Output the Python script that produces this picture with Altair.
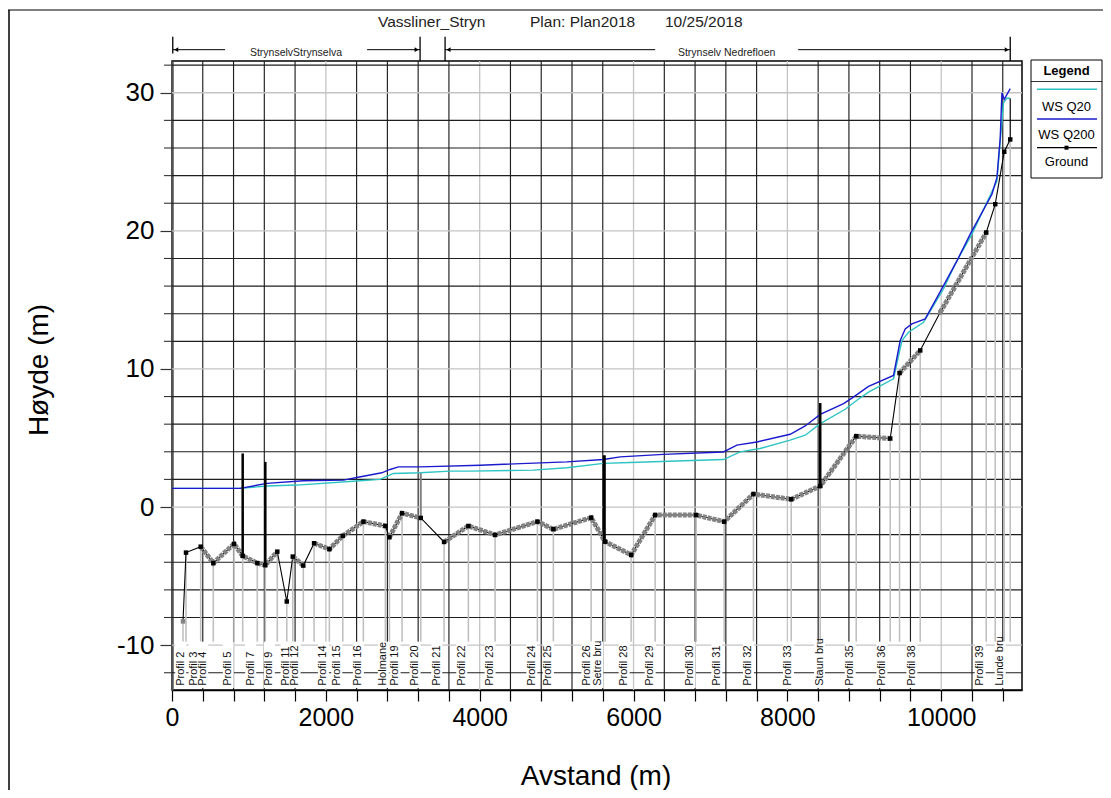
import altair as alt
import pandas as pd

FONT = "Liberation Sans"

# ---------------- data ----------------
# Ground profile (channel invert): station (m), elevation (m), marker ("b" = cross section, "g" = interpolated)
ground_x = [143, 182, 373, 537, 806, 919, 1109, 1213, 1369, 1492, 1570, 1707, 1847, 2046, 2220,
            2488, 2774, 2826, 2991, 3234, 3537, 3853, 4200, 4750, 4958, 5449, 5631, 5969, 6281,
            6814, 7178, 7559, 8050, 8427, 8895, 9337, 9458, 9727, 9987, 10585, 10702, 10819, 10897]
ground_z = [-8.28, -3.30, -2.87, -4.06, -2.67, -3.54, -4.06, -4.21, -3.23, -6.84, -3.59, -4.24,
            -2.62, -3.05, -2.09, -1.06, -1.37, -2.19, -0.45, -0.79, -2.53, -1.37, -2.02, -1.06,
            -1.61, -0.77, -2.51, -3.47, -0.58, -0.58, -1.06, 0.94, 0.56, 1.52, 5.13, 4.96, 9.70,
            11.34, 14.10, 19.88, 21.93, 25.73, 26.62]
ground_mk = ["g"] + ["b"] * 37 + ["g"] + ["b"] * 4
# 1 = stretch with interpolated sections (thick grey), 0 = plain thin line
seg_interp = [0, 0, 1, 1, 1, 1, 1, 1, 0, 0, 1, 0, 1, 1, 1, 1, 0, 1, 1, 0, 1, 1, 1, 1, 1, 1, 1,
              1, 1, 1, 1, 1, 1, 1, 1, 0, 1, 0, 1, 0, 0, 0]

# Water surfaces
q20_x = [0, 884, 1232, 1622, 2402, 2705, 2878, 3225, 3615, 3875, 4698, 5133, 5609, 5956, 7169,
         7386, 7646, 8036, 8232, 8427, 8752, 8904, 9055, 9380, 9489, 9575, 9770, 10030, 10182,
         10399, 10724, 10767, 10810, 10854, 10897]
q20_z = [1.35, 1.35, 1.52, 1.59, 1.88, 2.00, 2.43, 2.48, 2.60, 2.60, 2.67, 2.84, 3.16, 3.23, 3.44,
         3.99, 4.24, 4.84, 5.20, 6.04, 7.08, 7.73, 8.32, 9.29, 12.06, 12.66, 13.38, 15.79, 17.60,
         19.76, 23.61, 26.50, 29.26, 29.62, 29.58]
q200_x = [0, 884, 1232, 1707, 2228, 2402, 2727, 2835, 2943, 3225, 4005, 5133, 5609, 5826, 6389,
          7169, 7343, 7604, 8036, 8232, 8427, 8730, 8839, 9055, 9380, 9467, 9532, 9619, 9792,
          10030, 10204, 10377, 10659, 10724, 10767, 10789, 10819, 10897]
q200_z = [1.35, 1.35, 1.71, 1.90, 1.95, 2.14, 2.48, 2.72, 2.91, 2.91, 3.03, 3.27, 3.44, 3.63, 3.81,
          3.99, 4.48, 4.71, 5.27, 5.87, 6.71, 7.49, 7.89, 8.74, 9.53, 12.06, 12.90, 13.26, 13.62,
          16.03, 17.83, 19.76, 22.65, 23.85, 26.74, 29.99, 29.53, 30.30]

# Cross-section labels
xs_labels = ["Profil 2", "Profil 3", "Profil 4", "Profil 5", "Profil 7", "Profil 9", "Profil 11",
             "Profil 12", "Profil 14", "Profil 15", "Profil 16", "Holmane", "Profil 19",
             "Profil 20", "Profil 21", "Profil 22", "Profil 23", "Profil 24", "Profil 25",
             "Profil 26", "Setre bru", "Profil 28", "Profil 29", "Profil 30", "Profil 31",
             "Profil 32", "Profil 33", "Staun bru", "Profil 35", "Profil 36", "Profil 38",
             "Profil 39", "Lunde bru"]
xs_label_x = [113, 286, 399, 732, 1023, 1265, 1482, 1600, 1968, 2142, 2423, 2748, 2900, 3160,
              3442, 3767, 4135, 4678, 4893, 5393, 5536, 5878, 6216, 6736, 7083, 7494, 8014,
              8418, 8817, 9229, 9619, 10507, 10767]

# Structures (bridges etc.) drawn as vertical bars
st_x = [919, 1213, 3234, 5620, 8427, 10897]
st_lo = [-3.54, -4.21, -0.79, -2.51, 1.52, 26.62]
st_hi = [3.88, 3.27, 2.45, 3.75, 7.53, 29.58]
st_col = ["black", "black", "#808080", "black", "black", "black"]
st_w = [2.5, 2.5, 2.0, 3.0, 2.5, 1.2]

# Reaches
reach_names = ["StrynselvStrynselva", "Strynselv Nedrefloen"]
reach_label_x = [1612, 7210]
reach_arrow_x1 = [10, 2536, 3550, 8140]
reach_arrow_x2 = [689, 3225, 6281, 10897]
reach_tips = [10, 3225, 3550, 10897]
reach_tip_dir = ["left", "right", "left", "right"]

x_major = [0, 2000, 4000, 6000, 8000, 10000]
y_major = [-10, 0, 10, 20, 30]

# ---------------- scales / axes ----------------
XS = alt.Scale(domain=[0, 11050], nice=False, zero=False)
YS = alt.Scale(domain=[-13.25, 32.3], nice=False, zero=False)
W, H = 850, 629

x_minor = [v for v in range(400, 11050, 400) if v % 2000 != 0]
y_minor = [v for v in range(-12, 33, 2) if v % 10 != 0]
x_all = list(range(0, 11050, 400))

AX = alt.Axis(values=x_all, labelExpr="datum.value % 2000 == 0 ? '' + datum.value : ''",
              labelFontSize=25, labelFont=FONT, labelColor="black", tickSize=11,
              tickColor="black", tickWidth=1.2, domainColor="black", domainWidth=1.5,
              labelPadding=4, labelOverlap=False, labelFlush=False, grid=False, title=None)
AY = alt.Axis(values=y_major, labelExpr="'' + datum.value", labelFontSize=26, labelFont=FONT,
              labelColor="black", tickSize=12, tickColor="#333", tickWidth=1.2,
              domainColor="#555", domainWidth=2.5, labelPadding=6, labelOverlap=False,
              labelFlush=False, grid=False, title=None)


def X(f):
    return alt.X(f, scale=XS, axis=AX)


def Y(f):
    return alt.Y(f, scale=YS, axis=AY)


one = alt.Data(values=[{"k": 0}])
layers = []

# grid
layers.append(alt.Chart(pd.DataFrame({"v": x_major[1:]})).mark_rule(
    color="#c4c4c4", strokeWidth=1.3).encode(x=X("v:Q")))
layers.append(alt.Chart(pd.DataFrame({"v": x_minor})).mark_rule(
    color="#1e1e1e", strokeWidth=1.15).encode(x=X("v:Q")))
layers.append(alt.Chart(pd.DataFrame({"v": y_major})).mark_rule(
    color="#c4c4c4", strokeWidth=1.3).encode(y=Y("v:Q")))
layers.append(alt.Chart(pd.DataFrame({"v": y_minor})).mark_rule(
    color="#1e1e1e", strokeWidth=1.15).encode(y=Y("v:Q")))
# minor ticks on y axis
layers.append(alt.Chart(pd.DataFrame({"v": y_minor})).mark_rule(
    color="#333", strokeWidth=1.1).encode(y=Y("v:Q"), x=alt.value(-8), x2=alt.value(0)))

# cross-section stems (ground down to label band)
gdf = pd.DataFrame({"x": ground_x, "z": ground_z, "mk": ground_mk, "o": range(len(ground_x))})
stems = pd.concat([gdf.iloc[[0]], gdf[gdf["mk"] == "b"]])
stems["low"] = -9.75
layers.append(alt.Chart(stems).mark_rule(color="#c0c0c0", strokeWidth=1.6).encode(
    x=X("x:Q"), y=Y("z:Q"), y2="low:Q"))

# label boxes + labels
ldf = pd.DataFrame({"label": xs_labels, "x": xs_label_x})
ldf["yb"] = -12.95
ldf["top"] = -9.75
ldf["bot"] = -13.1
layers.append(alt.Chart(ldf).mark_rule(color="white", strokeWidth=11).encode(
    x=X("x:Q"), y=Y("top:Q"), y2="bot:Q"))
layers.append(alt.Chart(ldf).mark_text(
    angle=270, align="left", baseline="middle", fontSize=11, font=FONT, color="#111").encode(
    x=X("x:Q"), y=Y("yb:Q"), text="label:N"))

# water surfaces
layers.append(alt.Chart(pd.DataFrame({"x": q20_x, "z": q20_z})).mark_line(
    color="#2ec4c4", strokeWidth=1.4).encode(x=X("x:Q"), y=Y("z:Q")))
layers.append(alt.Chart(pd.DataFrame({"x": q200_x, "z": q200_z})).mark_line(
    color="#1a1acc", strokeWidth=1.4).encode(x=X("x:Q"), y=Y("z:Q")))

# ground
layers.append(alt.Chart(gdf).mark_line(color="black", strokeWidth=1.1).encode(
    x=X("x:Q"), y=Y("z:Q"), order="o:Q"))
rows = []
run = -1
prev = False
for i, f in enumerate(seg_interp):
    if f:
        if not prev:
            run += 1
            rows.append({"seg": run, "x": ground_x[i], "z": ground_z[i], "o": i})
        rows.append({"seg": run, "x": ground_x[i + 1], "z": ground_z[i + 1], "o": i + 1})
    prev = bool(f)
layers.append(alt.Chart(pd.DataFrame(rows)).mark_line(
    color="#838383", strokeWidth=5, strokeDash=[4, 1]).encode(
    x=X("x:Q"), y=Y("z:Q"), detail="seg:N", order="o:Q"))

sdf = pd.DataFrame({"x": st_x, "lo": st_lo, "hi": st_hi, "col": st_col, "w": st_w})
layers.append(alt.Chart(sdf).mark_rule().encode(
    x=X("x:Q"), y=Y("lo:Q"), y2="hi:Q",
    color=alt.Color("col:N", scale=None), strokeWidth=alt.StrokeWidth("w:Q", scale=None)))

layers.append(alt.Chart(gdf).mark_square(size=20, opacity=1).encode(
    x=X("x:Q"), y=Y("z:Q"),
    color=alt.Color("mk:N", scale=alt.Scale(domain=["b", "g"], range=["black", "#838383"]),
                    legend=None)))

# reach annotation above the plot
adf = pd.DataFrame({"x1": reach_arrow_x1, "x2": reach_arrow_x2})
adf["y"] = 33.12
layers.append(alt.Chart(adf).mark_rule(color="black", strokeWidth=1).encode(
    x=X("x1:Q"), x2="x2:Q", y=Y("y:Q")))
bdf = pd.DataFrame({"x": reach_tips})
bdf["y1"] = [32.85, 32.3, 32.3, 32.3]
bdf["y2"] = 34.05
layers.append(alt.Chart(bdf).mark_rule(color="black", strokeWidth=1.3).encode(
    x=X("x:Q"), y=Y("y1:Q"), y2="y2:Q"))
hdf = pd.DataFrame({"x": [t + (45 if d == "left" else -45) for t, d in zip(reach_tips, reach_tip_dir)],
                    "shape": ["triangle-left" if d == "left" else "triangle-right" for d in reach_tip_dir]})
hdf["y"] = 33.12
layers.append(alt.Chart(hdf).mark_point(filled=True, size=22, color="black", opacity=1).encode(
    x=X("x:Q"), y=Y("y:Q"), shape=alt.Shape("shape:N", scale=None)))
rdf = pd.DataFrame({"name": reach_names, "x": reach_label_x})
rdf["y"] = 32.88
layers.append(alt.Chart(rdf).mark_text(fontSize=10.5, font=FONT, color="#222").encode(
    x=X("x:Q"), y=Y("y:Q"), text="name:N"))

# title pieces
for txt, px in [("Vassliner_Stryn", 206), ("Plan: Plan2018", 358), ("10/25/2018", 493)]:
    layers.append(alt.Chart(one).mark_text(text=txt, fontSize=15.5, font=FONT, color="#222",
                                           align="left", baseline="middle").encode(
        x=alt.value(px), y=alt.value(-39)))

# axis titles
layers.append(alt.Chart(one).mark_text(text="Avstand (m)", fontSize=28, font=FONT, color="black",
                                       align="center", baseline="alphabetic").encode(
    x=alt.value(424), y=alt.value(724)))
layers.append(alt.Chart(one).mark_text(text="Høyde (m)", fontSize=28, font=FONT, color="black",
                                       align="center", baseline="middle", angle=270).encode(
    x=alt.value(-132), y=alt.value(309)))

# legend box
layers.append(alt.Chart(one).mark_rect(fill="white", stroke="black", strokeWidth=1).encode(
    x=alt.value(859), x2=alt.value(930), y=alt.value(-1), y2=alt.value(117)))
layers.append(alt.Chart(one).mark_rule(color="black", strokeWidth=0.8).encode(
    x=alt.value(859), x2=alt.value(930), y=alt.value(20.5)))
layers.append(alt.Chart(one).mark_text(text="Legend", fontSize=13, fontWeight="bold", font=FONT,
                                       color="black").encode(x=alt.value(894.5), y=alt.value(9.5)))
for ly, col, w in [(28.3, "#2ec4c4", 1.6), (58, "#1a1acc", 1.6), (86.7, "black", 1.2)]:
    layers.append(alt.Chart(one).mark_rule(color=col, strokeWidth=w).encode(
        x=alt.value(865), x2=alt.value(925), y=alt.value(ly)))
layers.append(alt.Chart(one).mark_square(size=16, color="black", opacity=1).encode(
    x=alt.value(894.5), y=alt.value(86.7)))
for txt, ty in [("WS Q20", 46), ("WS Q200", 74), ("Ground", 100.7)]:
    layers.append(alt.Chart(one).mark_text(text=txt, fontSize=13, font=FONT, color="black").encode(
        x=alt.value(894.5), y=alt.value(ty)))

# outer frame lines
layers.append(alt.Chart(one).mark_rule(color="black", strokeWidth=1.2).encode(
    x=alt.value(-164), x2=alt.value(931), y=alt.value(-51)))
layers.append(alt.Chart(one).mark_rule(color="black", strokeWidth=1.5).encode(
    x=alt.value(-163), y=alt.value(-51), y2=alt.value(729)))

chart = alt.layer(*layers).properties(
    width=W, height=H,
    padding={"left": 164, "top": 53, "right": 81, "bottom": 100},
    autosize=alt.AutoSizeParams(type="none"),
    background="white",
).configure_view(stroke="black", strokeWidth=1.5)

chart.save("out.html", embed_options={"renderer": "svg", "actions": False})
